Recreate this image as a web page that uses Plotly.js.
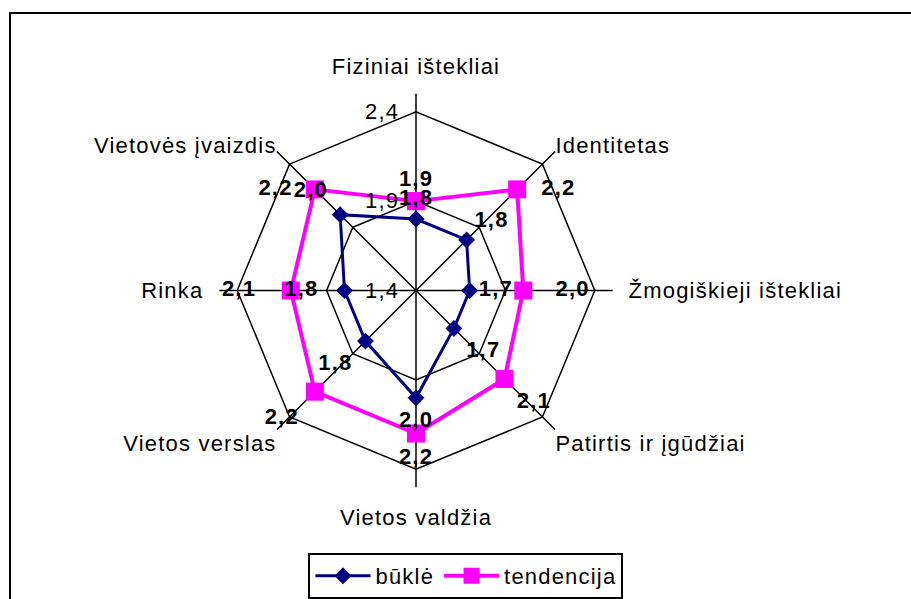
<!DOCTYPE html>
<html>
<head>
<meta charset="utf-8">
<script src="https://cdn.plot.ly/plotly-3.0.1.min.js"></script>
<style>
html,body{margin:0;padding:0;background:#fff;}
#chart{width:911px;height:599px;}
text{letter-spacing:1.2px;}
</style>
</head>
<body>
<div id="chart"></div>
<script>
// ---- data ----
const categories = ['Fiziniai ištekliai','Identitetas','Žmogiškieji ištekliai','Patirtis ir įgūdžiai','Vietos valdžia','Vietos verslas','Rinka','Vietovės įvaizdis'];
const bukle = [1.8, 1.8, 1.7, 1.7, 2.0, 1.8, 1.8, 2.0];
const tendencija = [1.9, 2.2, 2.0, 2.1, 2.2, 2.2, 2.1, 2.2];
const radialTicks = [1.4, 1.9, 2.4];
const seriesNames = ['būklė', 'tendencija'];

// ---- styles ----
const FONT = 'Liberation Sans, Arial, sans-serif';
const fmt = v => v.toFixed(1).replace('.', ',');
const closeLoop = a => a.concat([a[0]]);
const NB = '\u00a0', THIN = '\u2009';

const bluePos = ['top center','top right','middle right','bottom right','bottom center','bottom left','middle left','top left'];
const blueOff = [12, 11, 13, 18, 19, 19, 40, 18];
const pinkPos = ['top center','middle right','middle right','bottom right','bottom center','bottom left','middle left','middle left'];
const pinkOff = [14, 37, 50, 18, 21, 24, 54, 34];

// diagonal category labels drawn by the main angular axis, axis-aligned ones by an overlay axis
const diagText = categories.map((c, i) => (i % 2 === 1 ? c : ''));
const straightCats = categories.filter((c, i) => i % 2 === 0);

const labelFont = {family: FONT, size: 22, color: '#000', weight: 'bold'};
const axisFont = {family: FONT, size: 22, color: '#000'};
const traces = [
  {
    type: 'scatterpolar', name: seriesNames[0],
    r: closeLoop(bukle), theta: closeLoop(categories),
    mode: 'lines+markers',
    line: {color: '#000080', width: 3},
    marker: {symbol: 'diamond', size: 13, color: '#000080'}
  },
  {
    type: 'scatterpolar', name: seriesNames[1],
    r: closeLoop(tendencija), theta: closeLoop(categories),
    mode: 'lines+markers',
    line: {color: '#FF00FF', width: 4},
    marker: {symbol: 'square', size: 18, color: '#FF00FF'}
  },
  {
    type: 'scatterpolar', showlegend: false, hoverinfo: 'skip',
    r: bukle, theta: categories, mode: 'markers+text',
    text: bukle.map(fmt), textposition: bluePos, textfont: labelFont,
    marker: {size: blueOff, color: 'rgba(0,0,0,0)', opacity: 0, line: {width: 0}}
  },
  {
    type: 'scatterpolar', showlegend: false, hoverinfo: 'skip',
    r: tendencija, theta: categories, mode: 'markers+text',
    text: tendencija.map(fmt), textposition: pinkPos, textfont: labelFont,
    marker: {size: pinkOff, color: 'rgba(0,0,0,0)', opacity: 0, line: {width: 0}}
  },
  {
    // invisible carrier so the overlay axis (category labels) is drawn
    type: 'scatterpolar', subplot: 'polar2', showlegend: false, hoverinfo: 'skip',
    r: bukle, theta: categories, mode: 'markers',
    marker: {size: 1, color: 'rgba(0,0,0,0)', opacity: 0}
  }
];

const cx = 416, cy = 291, R = 197, W = 911, H = 599;
const dom = {x: [(cx - R) / W, (cx + R) / W], y: [(H - cy - R) / H, (H - cy + R) / H]};
const layout = {
  width: W, height: H,
  margin: {l: 0, r: 0, t: 0, b: 0},
  paper_bgcolor: '#fff',
  font: axisFont,
  showlegend: true,
  legend: {
    orientation: 'h', x: 0.5115, xanchor: 'center', y: (H - 554) / H, yanchor: 'top',
    bordercolor: '#000', borderwidth: 2, bgcolor: '#fff',
    font: axisFont, itemwidth: 55, tracegroupgap: 0
  },
  polar: {
    domain: dom,
    bgcolor: '#fff',
    gridshape: 'linear',
    radialaxis: {
      range: [1.4, 2.5], tickvals: radialTicks, ticktext: radialTicks.map(v => fmt(v) + NB + THIN),
      angle: 90, tickangle: 90, side: 'counterclockwise',
      showline: false, gridcolor: '#000', gridwidth: 1.5, ticks: '',
      tickfont: axisFont
    },
    angularaxis: {
      direction: 'clockwise', rotation: 90, showline: false,
      gridcolor: '#000', gridwidth: 1.5,
      tickmode: 'array', tickvals: categories, ticktext: diagText,
      ticks: '', tickfont: axisFont
    }
  },
  polar2: {
    domain: dom,
    bgcolor: 'rgba(0,0,0,0)',
    gridshape: 'linear',
    radialaxis: {visible: false, range: [1.4, 2.5]},
    angularaxis: {
      direction: 'clockwise', rotation: 90, showline: false, showgrid: false,
      tickmode: 'array', tickvals: straightCats, ticktext: straightCats,
      ticks: 'outside', ticklen: 11, tickcolor: 'rgba(0,0,0,0)',
      tickfont: axisFont
    }
  },
  shapes: [{
    type: 'rect', xref: 'paper', yref: 'paper',
    x0: 10 / W, x1: 1.02, y0: -0.02, y1: (H - 13) / H,
    line: {color: '#000', width: 2}
  }]
};

Plotly.newPlot('chart', traces, layout, {displayModeBar: false, staticPlot: true});
</script>
</body>
</html>
